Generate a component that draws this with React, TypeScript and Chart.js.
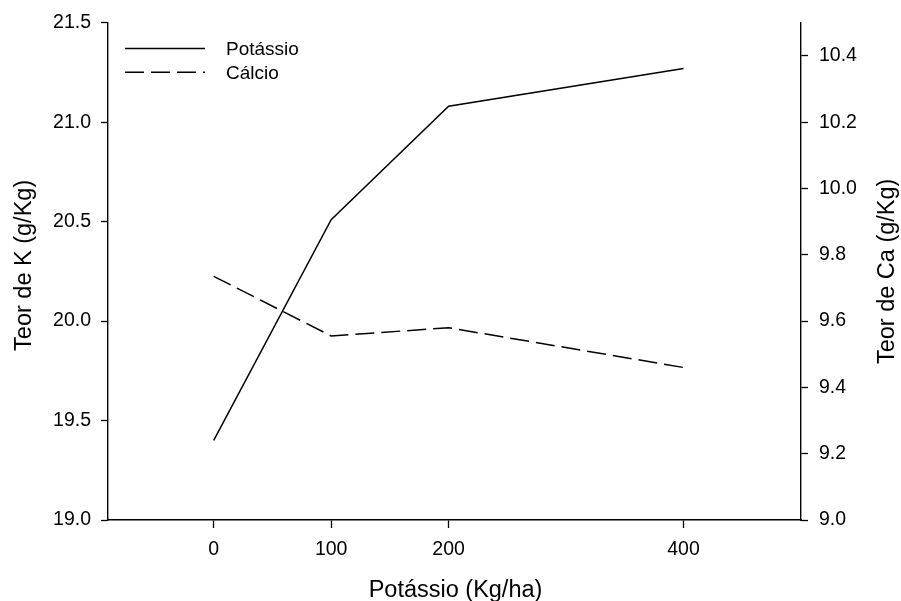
import React, { useEffect, useRef } from "react";
import { Chart, registerables } from "chart.js";

Chart.register(...registerables);

// ---- Data ----
const doses = [0, 100, 200, 400];
const potassio = [19.4, 20.51, 21.08, 21.27];
const calcio = [9.735, 9.555, 9.58, 9.46];

const xTicks = [0, 100, 200, 400];
const leftTicks = [19.0, 19.5, 20.0, 20.5, 21.0, 21.5];
const rightTicks = [9.0, 9.2, 9.4, 9.6, 9.8, 10.0, 10.2, 10.4];

const seriesNames = ["Potássio", "Cálcio"];
const xTitle = "Potássio (Kg/ha)";
const yLeftTitle = "Teor de K (g/Kg)";
const yRightTitle = "Teor de Ca (g/Kg)";

const FONT = "'Liberation Sans', Arial, sans-serif";
const DASH = [19, 7];

const overlayPlugin = {
  id: "overlay",
  afterDraw(chart: any) {
    const { ctx, chartArea } = chart;
    ctx.save();
    ctx.fillStyle = "#000";
    ctx.strokeStyle = "#000";

    // Axis titles
    ctx.font = `23.5px ${FONT}`;
    ctx.textAlign = "center";
    ctx.textBaseline = "alphabetic";
    ctx.fillText(xTitle, (chartArea.left + chartArea.right) / 2 + 1, 597);

    ctx.save();
    ctx.translate(30.5, (chartArea.top + chartArea.bottom) / 2 - 6);
    ctx.rotate(-Math.PI / 2);
    ctx.fillText(yLeftTitle, 0, 0);
    ctx.restore();

    ctx.save();
    ctx.translate(894, (chartArea.top + chartArea.bottom) / 2);
    ctx.rotate(-Math.PI / 2);
    ctx.fillText(yRightTitle, 0, 0);
    ctx.restore();

    // Legend
    const lx0 = chartArea.left + 17;
    const lx1 = chartArea.left + 97;
    const rows = [chartArea.top + 25.7, chartArea.top + 49.5];
    ctx.lineWidth = 1.5;
    rows.forEach((y, i) => {
      ctx.setLineDash(i === 0 ? [] : DASH);
      ctx.beginPath();
      ctx.moveTo(lx0, y);
      ctx.lineTo(lx1, y);
      ctx.stroke();
    });
    ctx.setLineDash([]);
    ctx.font = `19px ${FONT}`;
    ctx.textAlign = "left";
    ctx.textBaseline = "alphabetic";
    rows.forEach((y, i) => {
      ctx.fillText(seriesNames[i], chartArea.left + 118, y + 6.8);
    });
    ctx.restore();
  },
};

export default function App() {
  const ref = useRef<HTMLCanvasElement | null>(null);

  useEffect(() => {
    if (!ref.current) return;
    const tickFont = { family: FONT, size: 19.5 };
    const chart = new Chart(ref.current, {
      type: "line",
      data: {
        datasets: [
          {
            label: seriesNames[0],
            data: doses.map((x, i) => ({ x, y: potassio[i] })),
            yAxisID: "y",
            borderColor: "#000",
            borderWidth: 1.5,
            pointRadius: 0,
            fill: false,
            tension: 0,
          },
          {
            label: seriesNames[1],
            data: doses.map((x, i) => ({ x, y: calcio[i] })),
            yAxisID: "y2",
            borderColor: "#000",
            borderWidth: 1.5,
            borderDash: DASH,
            pointRadius: 0,
            fill: false,
            tension: 0,
          },
        ],
      },
      options: {
        animation: false,
        responsive: false,
        devicePixelRatio: 1,
        layout: { padding: { top: 22, left: 0, right: 0, bottom: 0 } },
        plugins: {
          legend: { display: false },
          tooltip: { enabled: false },
        },
        scales: {
          x: {
            type: "linear",
            position: "bottom",
            min: -90,
            max: 500,
            afterBuildTicks: (s: any) => {
              s.ticks = xTicks.map((v) => ({ value: v }));
            },
            afterFit: (s: any) => {
              s.height = 81;
            },
            grid: {
              drawOnChartArea: false,
              drawTicks: true,
              tickLength: 8,
              tickColor: "#000",
              tickWidth: 1.3,
            },
            border: { display: true, color: "#000", width: 1.4 },
            ticks: {
              color: "#000",
              font: tickFont,
              padding: 10,
              maxRotation: 0,
              autoSkip: false,
              callback: (v: any) => String(v),
            },
          },
          y: {
            type: "linear",
            position: "left",
            min: 19,
            max: 21.5,
            afterBuildTicks: (s: any) => {
              s.ticks = leftTicks.map((v) => ({ value: v }));
            },
            afterFit: (s: any) => {
              s.width = 108;
            },
            grid: {
              drawOnChartArea: false,
              drawTicks: true,
              tickLength: 7,
              tickColor: "#000",
              tickWidth: 1.3,
            },
            border: { display: true, color: "#000", width: 1.4 },
            ticks: {
              color: "#000",
              font: tickFont,
              padding: 10,
              autoSkip: false,
              callback: (v: any) => Number(v).toFixed(1),
            },
          },
          y2: {
            type: "linear",
            position: "right",
            min: 9,
            max: 10.5,
            afterBuildTicks: (s: any) => {
              s.ticks = rightTicks.map((v) => ({ value: v }));
            },
            afterFit: (s: any) => {
              s.width = 100;
            },
            grid: {
              drawOnChartArea: false,
              drawTicks: true,
              tickLength: 7,
              tickColor: "#000",
              tickWidth: 1.3,
            },
            border: { display: true, color: "#000", width: 1.4 },
            ticks: {
              color: "#000",
              font: tickFont,
              padding: 11,
              autoSkip: false,
              callback: (v: any) => Number(v).toFixed(1),
            },
          },
        },
      },
      plugins: [overlayPlugin],
    } as any);
    return () => chart.destroy();
  }, []);

  return (
    <div style={{ position: "absolute", left: 0, top: 0, width: 901, height: 601, background: "#fff" }}>
      <canvas ref={ref} width={901} height={601} style={{ width: 901, height: 601, display: "block" }} />
    </div>
  );
}
